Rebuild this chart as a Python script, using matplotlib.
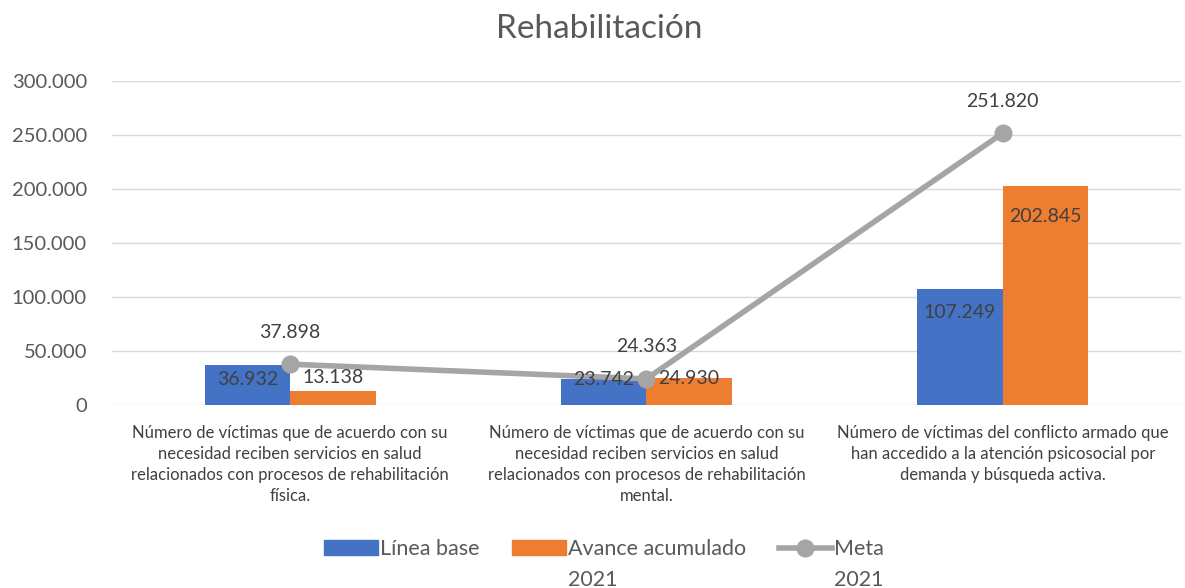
import numpy as np
import matplotlib
matplotlib.use('Agg')
import matplotlib.pyplot as plt
from matplotlib.lines import Line2D
from matplotlib.patches import Patch

plt.rcParams['font.family'] = ['Lato', 'DejaVu Sans']

categories = [
    'Número de víctimas que de acuerdo con su\nnecesidad reciben servicios en salud\nrelacionados con procesos de rehabilitación\nfísica.',
    'Número de víctimas que de acuerdo con su\nnecesidad reciben servicios en salud\nrelacionados con procesos de rehabilitación\nmental.',
    'Número de víctimas del conflicto armado que\nhan accedido a la atención psicosocial por\ndemanda y búsqueda activa.',
]
linea_base = [36932, 23742, 107249]
avance = [13138, 24930, 202845]
meta = [37898, 24363, 251820]
yticks = [0, 50000, 100000, 150000, 200000, 250000, 300000]

def fmt(v):
    return f'{v:,}'.replace(',', '.')

# label offsets in points (style only)
off_base = [-10, 0, -17]
off_av = [10, 0, -22]

fig = plt.figure(figsize=(11.85, 5.88), dpi=100)
ax = fig.add_axes([0.0945, 0.311, 0.902, 0.551])

x = np.arange(len(categories))
w = 0.24
txt = '#404040'
ax.bar(x - w / 2, linea_base, w, color='#4472C4', zorder=2)
ax.bar(x + w / 2, avance, w, color='#ED7D31', zorder=2)
ax.plot(x, meta, color='#A5A5A5', lw=4, marker='o', ms=12, zorder=3)

for i in range(len(x)):
    ax.annotate(fmt(linea_base[i]), (x[i] - w / 2, linea_base[i]), xytext=(0, off_base[i]),
                textcoords='offset points', ha='center', va='center', fontsize=14, color=txt, zorder=4)
    ax.annotate(fmt(avance[i]), (x[i] + w / 2, avance[i]), xytext=(0, off_av[i]),
                textcoords='offset points', ha='center', va='center', fontsize=14, color=txt, zorder=4)
    ax.annotate(fmt(meta[i]), (x[i], meta[i]), xytext=(0, 23),
                textcoords='offset points', ha='center', va='center', fontsize=14, color=txt, zorder=4)

ax.set_xlim(-0.5, 2.5)
ax.set_ylim(0, 300000)
ax.set_yticks(yticks)
ax.set_yticklabels([fmt(v) for v in yticks], fontsize=14.5, color='#595959')
ax.set_xticks(x)
ax.set_xticklabels(categories, fontsize=12, color=txt, linespacing=1.4)
ax.tick_params(axis='both', length=0)
ax.tick_params(axis='y', pad=18)
ax.tick_params(axis='x', pad=14)
ax.grid(axis='y', color='#D9D9D9', lw=1, zorder=0)
for s in ax.spines.values():
    s.set_visible(False)

fig.text(0.506, 0.95, 'Rehabilitación', ha='center', va='center', fontsize=24, color='#595959')

handles = [Patch(color='#4472C4'), Patch(color='#ED7D31'),
           Line2D([], [], color='#A5A5A5', lw=4, marker='o', ms=12)]
leg = fig.legend(handles, ['Línea base', 'Avance acumulado', 'Meta'], loc='center',
                 bbox_to_anchor=(0.51, 0.066), ncol=3, frameon=False, fontsize=15.5,
                 handlelength=2.5, handleheight=0.7, columnspacing=1.5, handletextpad=0.1,
                 labelcolor='#595959')
fig.canvas.draw()
inv = fig.transFigure.inverted()
for t in leg.get_texts()[1:]:
    bb = t.get_window_extent()
    x0, y0 = inv.transform((bb.x0, bb.y0))
    fig.text(x0, y0 - 0.018, '2021', ha='left', va='top', fontsize=15.5, color='#595959')

fig.savefig('out.png', dpi=100)
